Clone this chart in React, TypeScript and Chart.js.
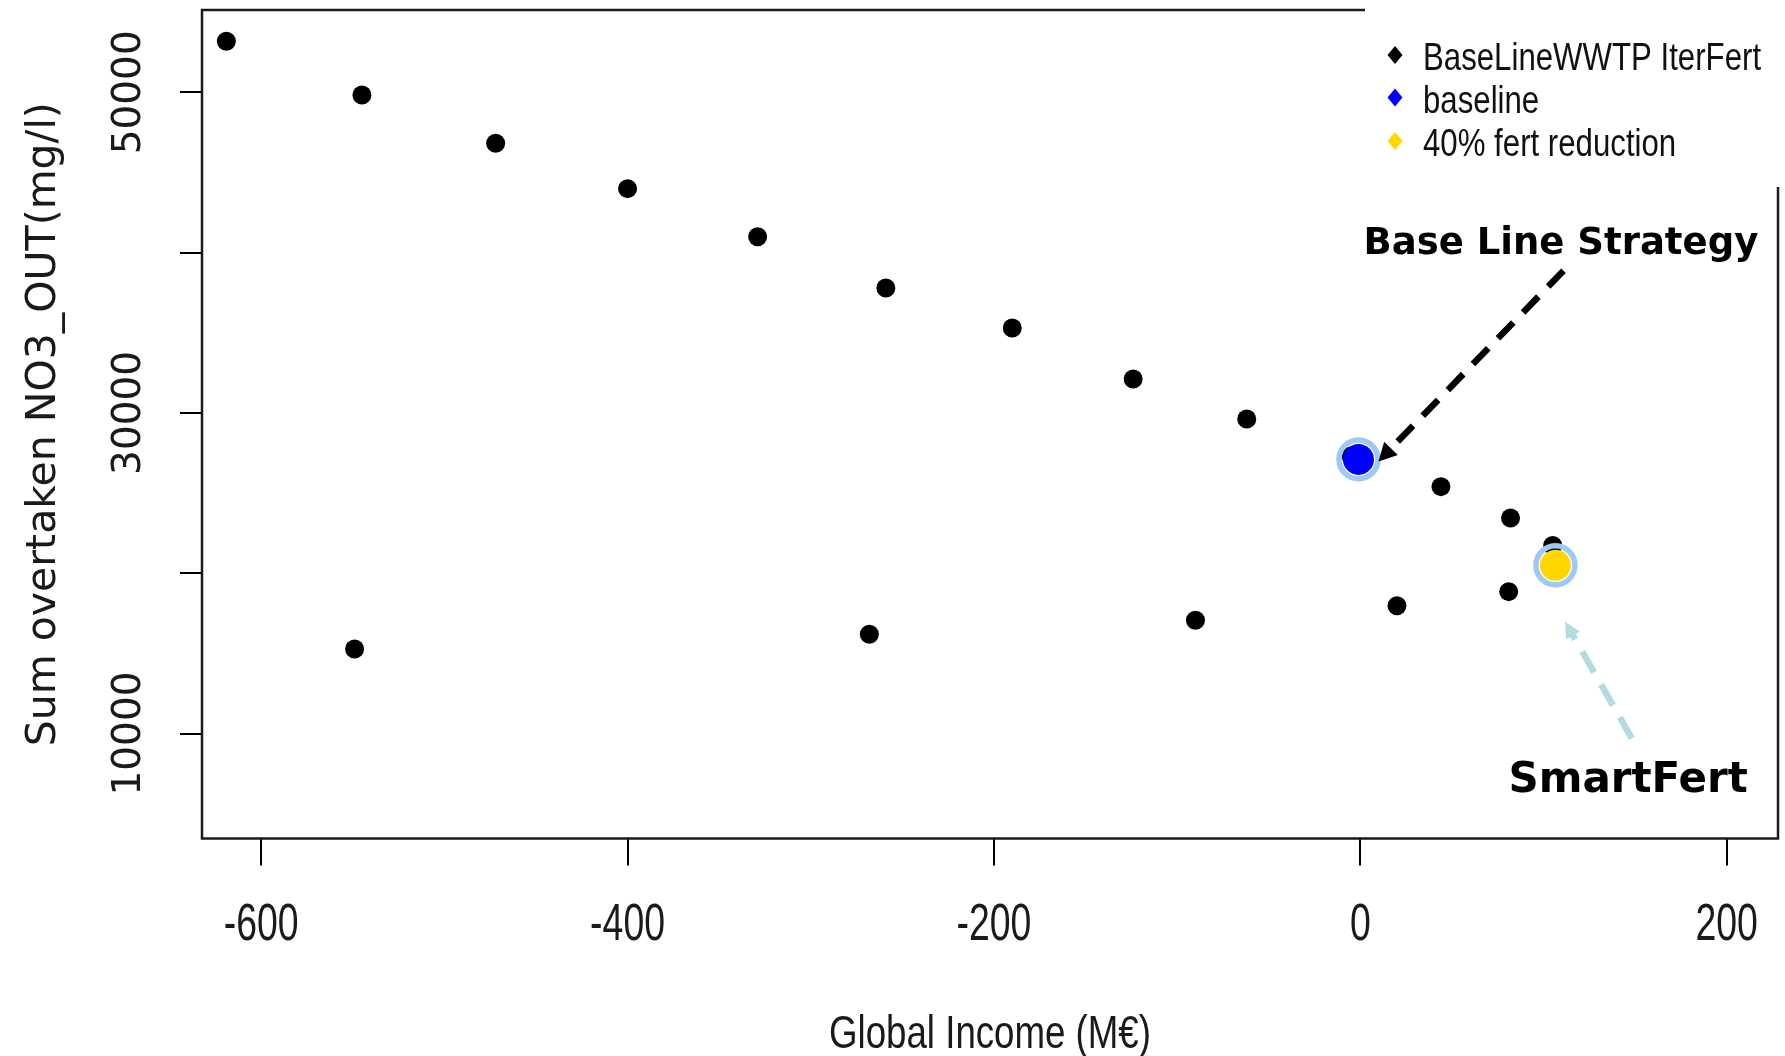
import React, { useEffect, useRef } from 'react';
import { Chart, registerables } from 'chart.js';

Chart.register(...registerables);

// ---- data ----
const seriesLabels = ['BaseLineWWTP IterFert', 'baseline', '40% fert reduction'];
const iterFertIncome = [-619, -545, -472, -400, -329, -259, -190, -124, -62, -5, 44, 82, 105, -549, -268, -90, 20, 81];
const iterFertNO3 = [53180, 49830, 46820, 43990, 40990, 37790, 35300, 32120, 29620, 27310, 25400, 23440, 21730, 15270, 16190, 17060, 17970, 18850];
const baselineIncome = [-1];
const baselineNO3 = [27100];
const fertRedIncome = [106.5];
const fertRedNO3 = [20490];
const xTickValues = [-600, -400, -200, 0, 200];
const yTickValues = [10000, 20000, 30000, 40000, 50000];
const yTickLabelValues = [10000, 30000, 50000];
const xTitle = 'Global Income (M€)';
const yTitle = 'Sum overtaken NO3_OUT(mg/l)';
const noteTexts = ['Base Line Strategy', 'SmartFert'];
// annotation anchors in data units [income, NO3]
const noteAnchors = [[109.5, 39910], [146.2, 6380]];
const arrowFrom = [[110.9, 38865], [148.2, 9700]];
const arrowTo = [[9.9, 26975], [111.8, 16974]];

const SANS = "'Liberation Sans', Arial, sans-serif";

function drawArrow(ctx: CanvasRenderingContext2D, x1: number, y1: number, x2: number, y2: number,
  color: string, width: number, dash: number[], headLen: number, headW: number) {
  const dx = x2 - x1, dy = y2 - y1;
  const len = Math.hypot(dx, dy);
  const ux = dx / len, uy = dy / len;
  const bx = x2 - ux * headLen, by = y2 - uy * headLen;
  ctx.save();
  ctx.strokeStyle = color;
  ctx.fillStyle = color;
  ctx.lineWidth = width;
  ctx.setLineDash(dash);
  ctx.beginPath();
  ctx.moveTo(x1, y1);
  ctx.lineTo(bx + ux * 2, by + uy * 2);
  ctx.stroke();
  ctx.setLineDash([]);
  ctx.beginPath();
  ctx.moveTo(x2, y2);
  ctx.lineTo(bx - uy * headW / 2, by + ux * headW / 2);
  ctx.lineTo(bx + uy * headW / 2, by - ux * headW / 2);
  ctx.closePath();
  ctx.fill();
  ctx.restore();
}

function stretchedText(ctx: CanvasRenderingContext2D, text: string, x: number, y: number, sx: number, align: CanvasTextAlign) {
  ctx.save();
  ctx.translate(x, y);
  ctx.scale(sx, 1);
  ctx.textAlign = align;
  ctx.textBaseline = 'alphabetic';
  ctx.fillText(text, 0, 0);
  ctx.restore();
}

const boxPlugin = {
  id: 'rBox',
  afterDraw(chart: any) {
    const { ctx, chartArea: a } = chart;
    ctx.save();
    ctx.strokeStyle = '#1a1a1a';
    ctx.lineWidth = 2.5;
    ctx.beginPath();
    ctx.moveTo(a.left, a.top);
    ctx.lineTo(a.right, a.top);
    ctx.lineTo(a.right, a.bottom);
    ctx.lineTo(a.left, a.bottom);
    ctx.closePath();
    ctx.stroke();
    ctx.restore();
  },
};

const xLabelPlugin = {
  id: 'rXLabels',
  afterDraw(chart: any) {
    const { ctx } = chart;
    const x = chart.scales.x;
    ctx.save();
    ctx.fillStyle = '#1a1a1a';
    ctx.font = `52px ${SANS}`;
    x.ticks.forEach((t: any) => {
      stretchedText(ctx, String(t.value), x.getPixelForValue(t.value), 940, 0.72, 'center');
    });
    ctx.font = `47px ${SANS}`;
    stretchedText(ctx, xTitle, (x.left + x.right) / 2, 1048, 0.78, 'center');
    ctx.restore();
  },
};

const notesPlugin = {
  id: 'rNotes',
  afterDraw(chart: any) {
    const { ctx, scales } = chart;
    const x = scales.x, y = scales.y;
    drawArrow(ctx,
      x.getPixelForValue(arrowFrom[0][0]), y.getPixelForValue(arrowFrom[0][1]),
      x.getPixelForValue(arrowTo[0][0]), y.getPixelForValue(arrowTo[0][1]),
      '#000', 6.5, [22, 14], 18, 19);
    drawArrow(ctx,
      x.getPixelForValue(arrowFrom[1][0]), y.getPixelForValue(arrowFrom[1][1]),
      x.getPixelForValue(arrowTo[1][0]), y.getPixelForValue(arrowTo[1][1]),
      '#b3dbdd', 6.5, [24, 14], 16, 16);
    ctx.save();
    ctx.fillStyle = '#000';
    ctx.textAlign = 'center';
    ctx.textBaseline = 'alphabetic';
    ctx.font = "bold 37px 'DejaVu Sans', sans-serif";
    ctx.fillText(noteTexts[0], x.getPixelForValue(noteAnchors[0][0]), y.getPixelForValue(noteAnchors[0][1]));
    ctx.font = "bold 42px 'DejaVu Sans', sans-serif";
    ctx.fillText(noteTexts[1], x.getPixelForValue(noteAnchors[1][0]), y.getPixelForValue(noteAnchors[1][1]));
    ctx.restore();
  },
};

const legendPlugin = {
  id: 'rLegend',
  afterDraw(chart: any) {
    const { ctx } = chart;
    ctx.save();
    ctx.fillStyle = '#fff';
    ctx.fillRect(1365, 0, 420, 187);
    const baselines = [70, 112.5, 156];
    const markerY = [55, 97.5, 141];
    chart.data.datasets.slice(0, 3).forEach((ds: any, i: number) => {
      const my = markerY[i];
      ctx.fillStyle = ds.backgroundColor;
      ctx.beginPath();
      ctx.moveTo(1395, my - 9);
      ctx.lineTo(1402.5, my);
      ctx.lineTo(1395, my + 9);
      ctx.lineTo(1387.5, my);
      ctx.closePath();
      ctx.fill();
      ctx.fillStyle = '#111';
      ctx.font = `39px ${SANS}`;
      stretchedText(ctx, ds.label, 1423, baselines[i], 0.8, 'left');
    });
    ctx.restore();
  },
};

export default function App() {
  const ref = useRef<HTMLCanvasElement>(null);
  useEffect(() => {
    if (!ref.current) return;
    const chart = new Chart(ref.current, {
      type: 'scatter',
      data: {
        datasets: [
          {
            label: seriesLabels[0],
            data: iterFertIncome.map((v, i) => ({ x: v, y: iterFertNO3[i] })),
            backgroundColor: '#000000',
            borderColor: '#000000',
            borderWidth: 0,
            pointRadius: 9.5,
            order: 3,
          },
          {
            label: seriesLabels[1],
            data: baselineIncome.map((v, i) => ({ x: v, y: baselineNO3[i] })),
            backgroundColor: '#0000FF',
            borderColor: '#0000FF',
            borderWidth: 0,
            pointRadius: 15.5,
            order: 2,
          },
          {
            label: seriesLabels[2],
            data: fertRedIncome.map((v, i) => ({ x: v, y: fertRedNO3[i] })),
            backgroundColor: '#FFD700',
            borderColor: '#FFD700',
            borderWidth: 0,
            pointRadius: 15.5,
            order: 2,
          },
          {
            label: 'highlight',
            data: [
              ...baselineIncome.map((v, i) => ({ x: v, y: baselineNO3[i] })),
              ...fertRedIncome.map((v, i) => ({ x: v, y: fertRedNO3[i] })),
            ],
            backgroundColor: 'rgba(0,0,0,0)',
            borderColor: '#9cc9f5',
            borderWidth: 5.5,
            pointRadius: 19.5,
            order: 1,
          },
        ],
      },
      options: {
        animation: false,
        responsive: false,
        devicePixelRatio: 1,
        events: [],
        layout: { autoPadding: false, padding: { top: 10, right: 7, left: 0, bottom: 0 } },
        plugins: {
          legend: { display: false },
          tooltip: { enabled: false },
        },
        scales: {
          x: {
            type: 'linear',
            position: 'bottom',
            min: -632.3,
            max: 228,
            afterFit: (s: any) => {
              s.height = 217.5;
              s.paddingLeft = 0; s.paddingRight = 0; s.paddingTop = 0; s.paddingBottom = 0;
            },
            afterBuildTicks: (s: any) => { s.ticks = xTickValues.map((v) => ({ value: v })); },
            border: { display: false },
            grid: { drawOnChartArea: false, drawTicks: true, tickLength: 27, color: '#000', lineWidth: 2 },
            ticks: { display: false, autoSkip: false },
            title: { display: false, text: xTitle },
          },
          y: {
            type: 'linear',
            min: 3450,
            max: 55134,
            afterFit: (s: any) => {
              s.width = 202;
              s.paddingLeft = 0; s.paddingRight = 0; s.paddingTop = 0; s.paddingBottom = 0;
            },
            afterBuildTicks: (s: any) => { s.ticks = yTickValues.map((v) => ({ value: v })); },
            border: { display: false },
            grid: { drawOnChartArea: false, drawTicks: true, tickLength: 22, color: '#000', lineWidth: 2 },
            ticks: {
              autoSkip: false,
              minRotation: 90,
              maxRotation: 90,
              crossAlign: 'center',
              padding: -11.5,
              color: '#1a1a1a',
              font: { family: "'DejaVu Sans', sans-serif", size: 39, lineHeight: 1 },
              callback: (v: any) => (yTickLabelValues.includes(Number(v)) ? String(v) : ''),
            },
            title: {
              display: true,
              text: yTitle,
              color: '#1a1a1a',
              font: { family: "'DejaVu Sans', sans-serif", size: 41, lineHeight: 1 },
              padding: { top: 23.5, bottom: 0 },
            },
          },
        },
      },
      plugins: [boxPlugin, xLabelPlugin, notesPlugin, legendPlugin],
    } as any);
    return () => chart.destroy();
  }, []);
  return (
    <div style={{ position: 'absolute', left: 0, top: 0, width: 1785, height: 1056, background: '#fff' }}>
      <canvas ref={ref} width={1785} height={1056} style={{ display: 'block' }} />
    </div>
  );
}
